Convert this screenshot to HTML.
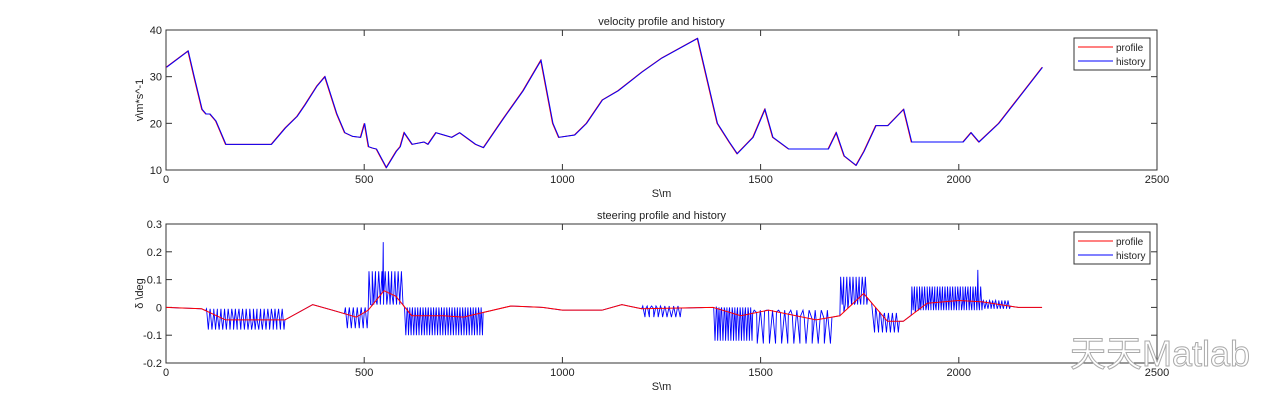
<!DOCTYPE html>
<html><head><meta charset="utf-8"><style>
body{margin:0;background:#fff;}
svg text{font-family:"Liberation Sans",sans-serif;font-size:11px;fill:#222;}
</style></head><body>
<svg id="c" width="1280" height="409" xmlns="http://www.w3.org/2000/svg"></svg>
<script>
const vS=[0,55,70,90,100,110,120,125,150,265,300,330,350,380,400,430,450,470,490,500,510,520,530,555,580,590,600,620,650,660,680,700,720,740,780,800,850,900,945,975,990,1030,1060,1100,1140,1200,1250,1340,1390,1420,1440,1480,1510,1530,1570,1670,1690,1710,1740,1760,1790,1820,1860,1880,2010,2030,2050,2100,2210];
const vV=[32,35.5,30,23,22,22,21,20.5,15.5,15.5,19,21.5,24,28,30,22,18,17.2,17,20,15,14.7,14.5,10.5,14,15,18,15.5,16,15.5,18,17.5,17,18,15.5,14.8,21,27,33.5,20,17,17.5,20,25,27,31,34,38.2,20,16,13.5,17,23,17,14.5,14.5,18,13,11,14,19.5,19.5,23,16,16,18,16,20,32];
const dS=[0,90,150,300,370,420,480,510,550,580,620,700,750,870,950,1000,1100,1150,1200,1380,1450,1520,1640,1700,1760,1820,1860,1920,2000,2060,2150,2210];
const dV=[0,-0.005,-0.045,-0.045,0.01,-0.01,-0.035,-0.01,0.06,0.04,-0.03,-0.03,-0.035,0.005,0,-0.01,-0.01,0.01,-0.005,0,-0.03,-0.01,-0.045,-0.03,0.05,-0.05,-0.05,0.015,0.025,0.02,0,0];
const oscStart=[100,450,510,600,1200,1380,1480,1700,1780,1880,2060];
const oscEnd=[300,510,600,800,1300,1480,1680,1770,1850,2060,2130];
const oscHigh=[-0.005,0,0.13,0,0.005,0,-0.01,0.11,-0.02,0.075,0.025];
const oscLow=[-0.08,-0.075,0.01,-0.1,-0.035,-0.12,-0.13,0.01,-0.09,-0.01,-0.005];
const oscCount=[44,12,22,60,18,30,26,18,14,56,18];
const spikeS=[548,2048];
const spikeV=[0.235,0.135];
const xTicks=[0,500,1000,1500,2000,2500];
const vTicks=[10,20,30,40];
const dTicks=[-0.2,-0.1,0,0.1,0.2,0.3];

const svg=document.getElementById('c');const NS='http://www.w3.org/2000/svg';
function el(t,a,p){const e=document.createElementNS(NS,t);for(const k in a)e.setAttribute(k,a[k]);(p||svg).appendChild(e);return e;}
const L=166,R=1157;
const xs=s=>L+(s/2500)*(R-L);
function interp(S,V,s){for(let i=0;i<S.length-1;i++){if(s>=S[i]&&s<=S[i+1]){return V[i]+(V[i+1]-V[i])*(s-S[i])/(S[i+1]-S[i]);}}return V[V.length-1];}
function axes(top,bot,ymin,ymax,yt,name,title,ylab){
  const ys=v=>bot-(v-ymin)/(ymax-ymin)*(bot-top);
  const g=el('g',{});
  el('rect',{x:L,y:top,width:R-L,height:bot-top,fill:'#fff',stroke:'#333','stroke-width':1},g);
  xTicks.forEach(t=>{const x=xs(t);el('line',{x1:x,x2:x,y1:bot,y2:bot-6,stroke:'#333'},g);el('line',{x1:x,x2:x,y1:top,y2:top+6,stroke:'#333'},g);
    const tx=el('text',{x:x,y:bot+13,'text-anchor':'middle'},g);tx.textContent=t;});
  yt.forEach(t=>{const y=ys(t);el('line',{x1:L,x2:L+6,y1:y,y2:y,stroke:'#333'},g);el('line',{x1:R,x2:R-6,y1:y,y2:y,stroke:'#333'},g);
    const tx=el('text',{x:L-4,y:y+4,'text-anchor':'end'},g);tx.textContent=String(t);});
  const tt=el('text',{x:(L+R)/2,y:top-5,'text-anchor':'middle'},g);tt.textContent=title;
  const xl=el('text',{x:(L+R)/2,y:bot+27,'text-anchor':'middle'},g);xl.textContent='S\\m';
  const yl=el('text',{x:0,y:0,'text-anchor':'middle',transform:`translate(143,${(top+bot)/2}) rotate(-90)`},g);yl.textContent=ylab;
  return ys;
}
function legend(x,y,name){const g=el('g',{});
  el('rect',{x:x,y:y,width:76,height:32,fill:'#fff',stroke:'#333'},g);
  el('line',{x1:x+4,x2:x+39,y1:y+9,y2:y+9,stroke:'#f00'},g);el('line',{x1:x+4,x2:x+39,y1:y+23,y2:y+23,stroke:'#00f'},g);
  const a=el('text',{x:x+42,y:y+13,style:'font-size:10px'},g);a.textContent='profile';
  const b=el('text',{x:x+42,y:y+27,style:'font-size:10px'},g);b.textContent='history';}
const ys1=axes(30,170,10,40,vTicks,'velocity-axes','velocity profile and history','v\\m*s^-1');
const p1=vS.map((s,i)=>xs(s)+','+ys1(vV[i])).join(' ');
const l1=el('polyline',{points:p1,fill:'none',stroke:'#f00','stroke-width':1});

const l2=el('polyline',{points:p1,fill:'none',stroke:'#00f','stroke-width':1,transform:'translate(0.5,0)'});

legend(1074,38,'velocity-legend');
const ys2=axes(224,363,-0.2,0.3,dTicks,'steering-axes','steering profile and history','δ \\deg');
const pp=dS.map((s,i)=>xs(s)+','+ys2(dV[i])).join(' ');
let hist=[];
for(let s=0;s<=2210;s+=10){hist.push([s,interp(dS,dV,s)]);}
oscStart.forEach((a,k)=>{const n=oscCount[k],b=oscEnd[k];for(let j=0;j<n;j++){const s=a+(b-a)*(j+0.5)/n;hist.push([s,j%2?oscLow[k]:oscHigh[k]]);}});
spikeS.forEach((s,i)=>{hist.push([s-1.5,interp(dS,dV,s)]);hist.push([s,spikeV[i]]);hist.push([s+1.5,interp(dS,dV,s)]);});
hist.sort((a,b)=>a[0]-b[0]);
const h=el('polyline',{points:hist.map(p=>xs(p[0])+','+ys2(p[1])).join(' '),fill:'none',stroke:'#00f','stroke-width':0.9});

const pl=el('polyline',{points:pp,fill:'none',stroke:'#f00','stroke-width':1});

legend(1074,232,'steering-legend');
const w=el('text',{x:1070,y:366,style:'font-size:36px;fill:#fff;stroke:#aaa;stroke-width:1;font-family:"Liberation Sans","Noto Sans CJK SC",sans-serif'});
w.textContent='天天Matlab';
</script>
</body></html>
